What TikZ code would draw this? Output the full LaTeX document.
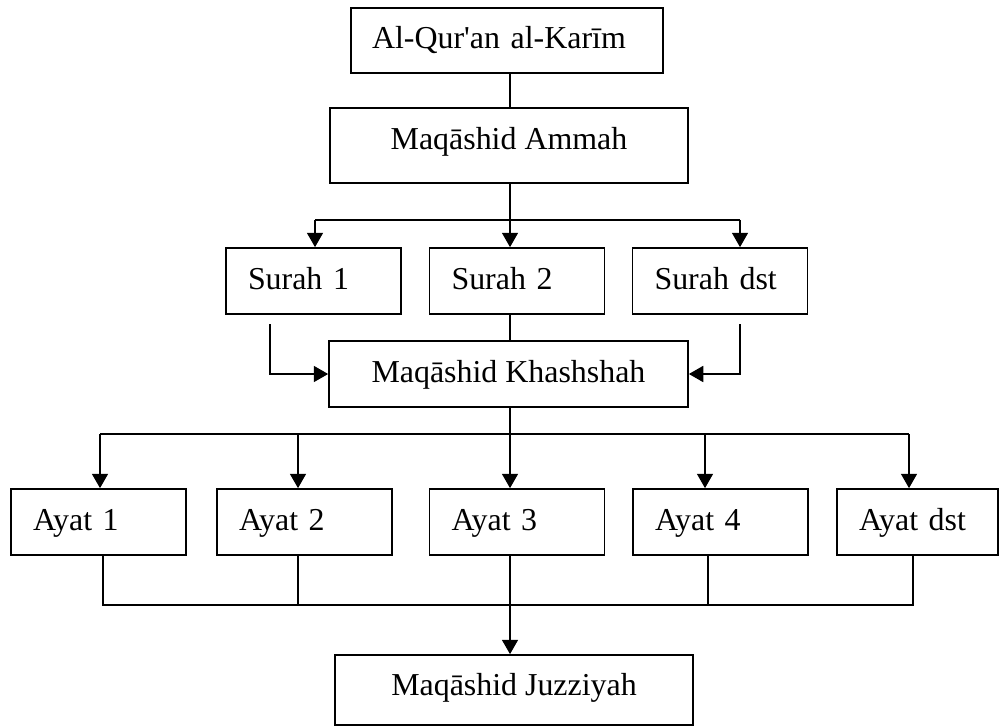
\documentclass[tikz,border=0pt]{standalone}
\usepackage{fontspec}
\setmainfont{Liberation Serif}[Ligatures=TeXOff]
\usetikzlibrary{arrows.meta}

\begin{document}
\begin{tikzpicture}[
    font=\fontsize{22.7pt}{27pt}\selectfont,
    line width=1.2pt,
    >={Triangle[length=0.36cm,width=0.4cm]},
    box/.style={draw, line width=1.2pt, text height=0.66em+0.175cm, text depth=0pt},
    lbox/.style={box, align=left, inner xsep=0.55cm, text width=3.275cm, minimum height=1.65cm},
    cbox/.style={box, align=center, minimum width=8.95cm, minimum height=1.65cm},
    thinline/.style={line width=0.8pt}]
    \useasboundingbox (0,0) rectangle (25,18.175);
    % boxes
    \node[lbox, text width=6.75cm, inner xsep=0.525cm, minimum height=1.625cm] (quran) at (12.675,17.1625) {Al-Qur'an al-Karīm};
    \node[cbox, minimum height=1.875cm, text depth=0.2cm] (ammah) at (12.725,14.5375) {Maqāshid Ammah};
    \node[lbox] (s1) at (7.8375,11.15) {Surah 1};
    \node[lbox] (s2) at (12.925,11.15) {Surah 2};
    \node[lbox] (s3) at (18.0,11.15) {Surah dst};
    \node[cbox, minimum width=8.975cm] (khas) at (12.7125,8.825) {Maqāshid Khashshah};
    \node[lbox] (a1) at (2.4625,5.125) {Ayat 1};
    \node[lbox] (a2) at (7.6125,5.125) {Ayat 2};
    \node[lbox] (a3) at (12.925,5.125) {Ayat 3};
    \node[lbox] (a4) at (18.0125,5.125) {Ayat 4};
    \node[lbox, text width=2.925cm] (a5) at (22.9375,5.125) {Ayat dst};
    \node[cbox, minimum height=1.75cm, text depth=0.15cm] (juz) at (12.85,0.925) {Maqāshid Juzziyah};
    % junctions
    \coordinate (t1) at (12.75,12.675);
    \coordinate (t1l) at (7.875,12.675);
    \coordinate (t1r) at (18.5,12.675);
    \coordinate (l1) at (6.75,10.075);
    \coordinate (r1) at (18.5,10.075);
    \coordinate (t2) at (12.75,7.325);
    \coordinate (t2l) at (2.5,7.325);
    \coordinate (t2b) at (7.45,7.325);
    \coordinate (t2d) at (17.625,7.325);
    \coordinate (t2r) at (22.725,7.325);
    \coordinate (b1) at (2.575,3.05);
    \coordinate (b2) at (7.45,3.05);
    \coordinate (b3) at (12.75,3.05);
    \coordinate (b4) at (17.7,3.05);
    \coordinate (b5) at (22.825,3.05);
    % top part
    \draw (quran.south -| t1) -- (ammah.north -| t1);
    \draw (ammah.south -| t1) -- (t1);
    \draw (t1l) -- (t1r);
    \draw[->] (t1l) -- (t1l |- s1.north);
    \draw[->] (t1) -- (t1 |- s2.north);
    \draw[->] (t1r) -- (t1r |- s3.north);
    \draw (s2.south -| t1) -- (khas.north -| t1);
    \draw[->] (l1) |- (khas.west);
    \draw[->] (r1) |- (khas.east);
    % ayat
    \draw (khas.south -| t2) -- (t2);
    \draw (t2l) -- (t2r);
    \draw[->] (t2l) -- (t2l |- a1.north);
    \draw[->] (t2b) -- (t2b |- a2.north);
    \draw[->] (t2) -- (t2 |- a3.north);
    \draw[->] (t2d) -- (t2d |- a4.north);
    \draw[->] (t2r) -- (t2r |- a5.north);
    % bottom part
    \draw[thinline] (b1 |- a1.south) -- (b1) -- (b5) -- (b5 |- a5.south);
    \draw[thinline] (b2 |- a2.south) -- (b2);
    \draw[thinline] (b4 |- a4.south) -- (b4);
    \draw[->] (b3 |- a3.south) -- (b3 |- juz.north);
\end{tikzpicture}
\end{document}
